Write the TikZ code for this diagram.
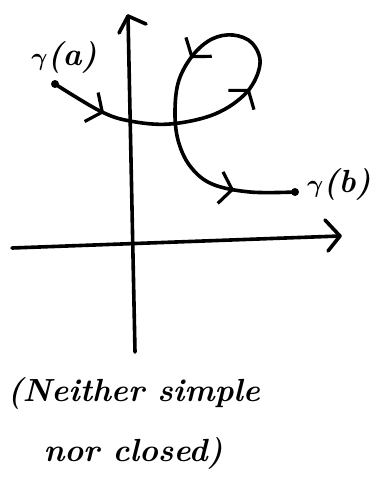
\documentclass[tikz,border=0pt]{standalone}
\usepackage{amsmath}
\usetikzlibrary{arrows.meta,decorations.markings}
\tikzset{barb/.tip={Straight Barb[length=12pt,width=32pt,line width=3.2pt]}}
\begin{document}
\begin{tikzpicture}[x=1pt,y=-1pt,
  ink/.style={line width=3.6pt,line cap=round,line join=round},
  chev/.style={ink,decoration={markings,
     mark=at position 57pt with {\arrow{barb}},
     mark=at position 214pt with {\arrow{barb}},
     mark=at position 336pt with {\arrow{barb}},
     mark=at position 502pt with {\arrow{barb}}},
     postaction=decorate},
  lab/.style={font=\fontsize{32}{36}\selectfont\bfseries\itshape},
  note/.style={font=\fontsize{32}{40}\selectfont\bfseries\itshape,align=left}]
\useasboundingbox (0,0) rectangle (384,498);
% axes
\coordinate (ybot) at (135,352);
\coordinate (ytop) at (128,16);
\coordinate (xl) at (12,248);
\coordinate (xr) at (340,236);
\draw[ink] (ybot) -- (ytop);
\draw[ink] (119,33) -- (ytop) -- (146,24);
\draw[ink] (xl) -- (xr);
\draw[ink] (325,220) -- (xr) -- (328,251);
% curve
\coordinate (ga) at (55,84);
\coordinate (gb) at (295,192);
\draw[chev] plot[smooth,tension=0.6] coordinates {(55,84) (100,111) (130,121) (170,124) (215,114) (247,92) (260,64) (252,43) (233,35) (212,39) (193,55) (179,80) (175,110) (178,140) (190,166) (212,184) (250,192) (295,192)};
\fill (ga) circle (4);
\fill (gb) circle (4);
\node[lab] (la) at (64,57) {$\boldsymbol{\gamma}$(a)};
\node[lab] (lb) at (339,184) {$\boldsymbol{\gamma}$(b)};
\node[note,anchor=west] (n1) at (4,393) {(Neither simple};
\node[note,anchor=west] (n2) at (40,453) {nor closed)};
\end{tikzpicture}
\end{document}
